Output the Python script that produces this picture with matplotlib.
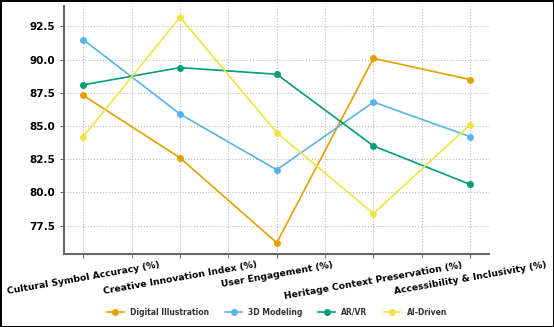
import numpy as np
import matplotlib
matplotlib.use("Agg")
import matplotlib.pyplot as plt
from matplotlib.ticker import MultipleLocator

categories = ["Cultural Symbol Accuracy (%)", "Creative Innovation Index (%)",
              "User Engagement (%)", "Heritage Context Preservation (%)",
              "Accessibility & Inclusivity (%)"]
digital = [87.3, 82.6, 76.2, 90.1, 88.5]
modeling = [91.5, 85.9, 81.7, 86.8, 84.2]
arvr = [88.1, 89.4, 88.9, 83.5, 80.6]
ai = [84.2, 93.2, 84.5, 78.4, 85.1]

series = [("Digital Illustration", digital, "#E69F00"),
          ("3D Modeling", modeling, "#56B4E9"),
          ("AR/VR", arvr, "#009E73"),
          ("AI-Driven", ai, "#F0E442")]

fig = plt.figure(figsize=(5.54, 3.27), dpi=100)
fig.patch.set_edgecolor("black")
fig.patch.set_linewidth(2)
ax = fig.add_axes([0.1155, 0.223, 0.768, 0.759])

x = np.arange(len(categories))
for name, vals, col in series:
    ax.plot(x, vals, marker="o", markersize=4, linewidth=1.2, color=col, label=name)

ax.set_xticks(x)
ax.set_xticklabels(categories, rotation=10, ha="center", fontsize=6.7, fontweight="bold")
ax.xaxis.set_minor_locator(MultipleLocator(0.5))
ax.tick_params(axis="both", which="both", length=3, color="#666666")
ax.tick_params(axis="x", pad=1.5)
ax.tick_params(axis="y", labelsize=7.5)
for lab in ax.get_yticklabels():
    lab.set_fontweight("bold")

# dotted grid, also at the half-category minor ticks
ax.grid(True, which="both", axis="x", linestyle=":", color="#bbbbbb", linewidth=0.8)
ax.grid(True, which="major", axis="y", linestyle=":", color="#bbbbbb", linewidth=0.8)
ax.set_axisbelow(True)

for s in ["top", "right"]:
    ax.spines[s].set_visible(False)
for s in ["left", "bottom"]:
    ax.spines[s].set_color("#666666")
    ax.spines[s].set_linewidth(1.5)

leg = fig.legend(loc="lower center", bbox_to_anchor=(0.5, 0.01), ncol=4, frameon=False,
                 prop={"size": 5.5, "weight": "bold"}, handlelength=2.2, columnspacing=2.1)
for t in leg.get_texts():
    t.set_color("#333333")

fig.savefig("out.png", dpi=100, edgecolor=fig.get_edgecolor())
